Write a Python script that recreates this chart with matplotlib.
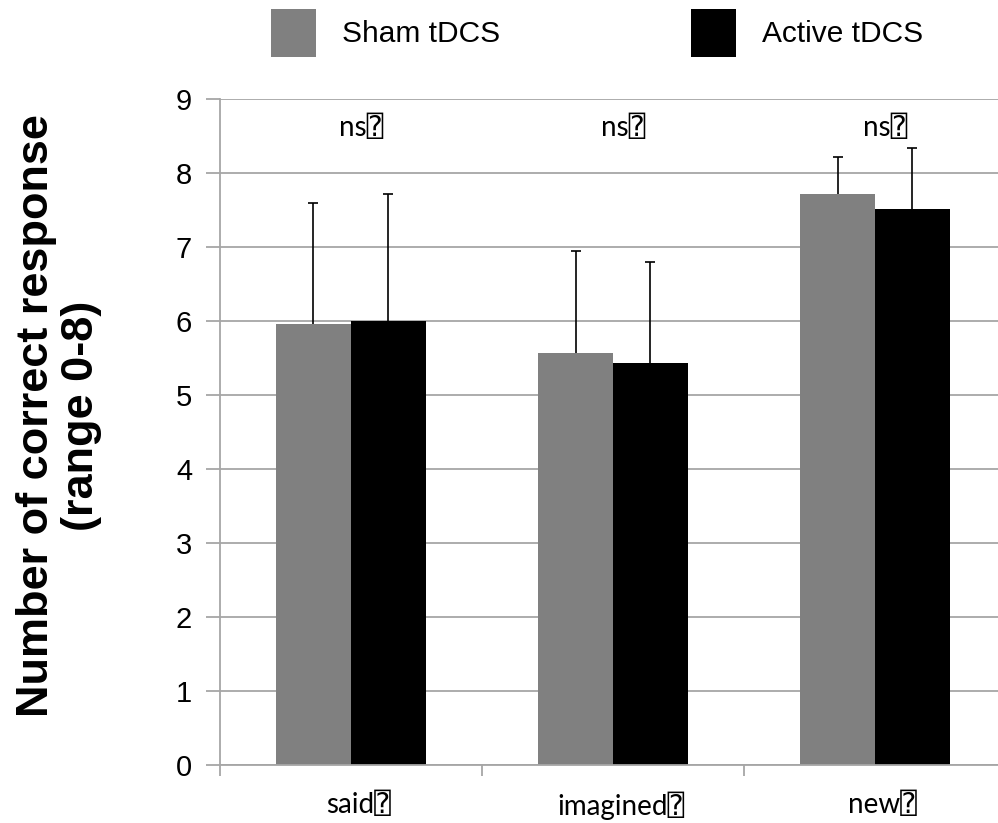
import numpy as np
import matplotlib.pyplot as plt

categories = ["said", "imagined", "new"]
sham = [5.96, 5.57, 7.72]
active = [6.00, 5.43, 7.52]
sham_err = [1.63, 1.37, 0.50]
active_err = [1.71, 1.37, 0.82]
sig_labels = ["ns", "ns", "ns"]
box = "\u2370"

plt.rcParams['font.family'] = ['Liberation Sans', 'DejaVu Sans']

fig = plt.figure(figsize=(9.98, 8.23), dpi=100)
ax = fig.add_axes([0.2204, 0.0705, 0.7876, 0.8092])

x = np.arange(len(categories))
w = 0.286
grid_col = "#a6a6a6"

ax.bar(x - w / 2, sham, w, color="#808080", label="Sham tDCS", zorder=2)
ax.bar(x + w / 2, active, w, color="black", label="Active tDCS", zorder=2)
for xs, vals, errs in [(x - w / 2, sham, sham_err), (x + w / 2, active, active_err)]:
    eb = ax.errorbar(xs, vals, yerr=[np.zeros(3), errs], fmt="none",
                     ecolor="black", elinewidth=1.2, capsize=3.6,
                     capthick=1.2, zorder=3)
    # only the top caps are shown
    for cl in eb[1]:
        if np.allclose(cl.get_ydata(), vals):
            cl.set_visible(False)

txt_font = ["Lato", "DejaVu Sans", "DejaVu Sans Mono"]
for i, s in enumerate(sig_labels):
    ax.text(x[i] + 0.04, 8.61, s + box, ha="center", va="center",
            fontsize=20, family=txt_font)

ax.set_xlim(-0.5, 2.5)
ax.set_ylim(0, 9)
ax.set_yticks(range(10))
ax.yaxis.grid(True, color=grid_col, linewidth=1.3, zorder=0)
ax.set_axisbelow(True)
ax.tick_params(axis="y", length=10, width=1.3, color=grid_col, pad=10,
               labelsize=21)

ax.set_xticks([-0.5, 0.5, 1.5, 2.5])
ax.set_xticklabels([])
ax.set_xticks(x + 0.03, minor=True)
ax.set_xticklabels([c + box for c in categories], minor=True,
                   family=txt_font, fontsize=20)
ax.tick_params(axis="x", which="major", length=8, width=1.3, color=grid_col)
ax.tick_params(axis="x", which="minor", length=0, pad=19)

for sp in ["top", "right"]:
    ax.spines[sp].set_visible(False)
for sp in ["left", "bottom"]:
    ax.spines[sp].set_color(grid_col)
    ax.spines[sp].set_linewidth(1.3)

fig.text(59 / 998, 0.4945, "Number of correct response\n(range 0-8)",
         rotation=90, ha="center", va="center", multialignment="center",
         fontsize=32.5, fontweight="bold", linespacing=1.15)

fig.legend(loc="center left", bbox_to_anchor=(0.2715, 0.96), ncol=2,
           frameon=False, borderpad=0, borderaxespad=0,
           prop={"size": 21.5},
           handlelength=1.5, handleheight=2.1, handletextpad=0.87,
           columnspacing=6.4)

fig.savefig("out.png", dpi=100)
